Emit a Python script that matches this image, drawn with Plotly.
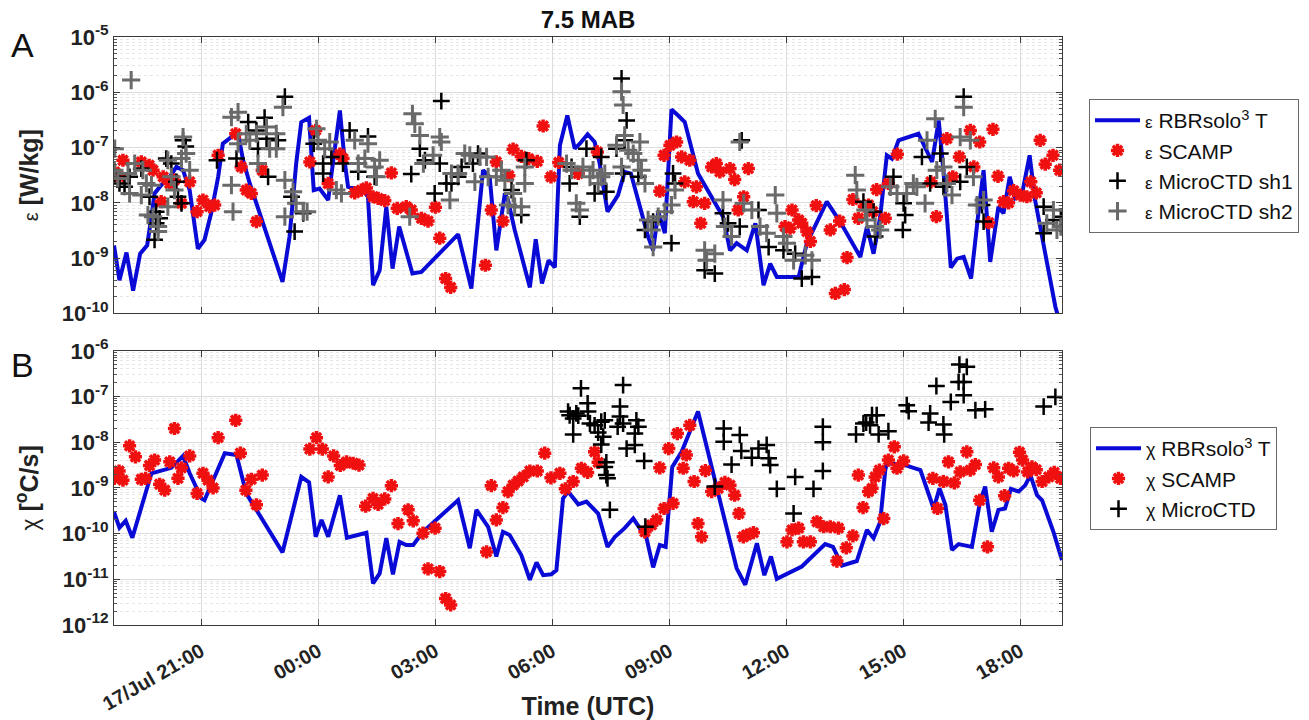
import pandas as pd
import plotly.graph_objects as go

# ---------------- data (time in hours after 17 Jul 00:00 UTC, values as log10) -------------
# Panel A: epsilon
eps_rbr_t = [18.77, 18.91, 19.09, 19.26, 19.44, 19.62, 19.73, 19.81, 19.98, 20.2, 20.37, 20.54, 20.71, 20.92,
             21.09, 21.26, 21.44, 21.56, 21.78, 21.95, 22.08, 22.25, 23.09, 23.27, 23.44, 23.57, 23.77, 23.89,
             24.04, 24.26, 24.38, 24.56, 24.69, 24.77, 25.15, 25.28, 25.41, 25.58, 25.75, 25.91, 26.08, 26.42,
             26.65, 26.86, 27.59, 27.93, 28.23, 28.40, 28.57, 28.79, 28.87, 29.04, 29.26, 29.43, 29.58, 29.74,
             29.91, 30.07, 30.2, 30.39, 30.58, 30.71, 30.91, 31.09, 31.22, 31.42, 31.69, 31.86, 32.02, 32.29,
             32.46, 32.59, 32.72, 32.89, 33.06, 33.23, 33.40, 33.74, 34.08, 34.38, 34.56, 34.73, 34.99, 35.21,
             35.42, 35.59, 35.76, 36.32, 36.53, 37.04, 37.38, 37.9, 38.07, 38.24, 38.41, 38.58, 38.71, 38.88,
             39.39, 39.74, 39.91, 40.03, 40.22, 40.38, 40.55, 40.74, 40.93, 41.06, 41.23, 41.44, 41.57, 41.73,
             41.87, 42.04, 42.24, 42.38, 42.90, 43.07]
eps_rbr_log = [-8.77, -9.40, -8.90, -9.59, -8.92, -8.77, -8.25, -7.83, -7.68, -7.53, -7.35, -7.41, -7.77, -8.83,
               -8.67, -8.19, -7.53, -6.93, -6.81, -6.75, -7.23, -7.65, -9.43, -8.61, -7.29, -6.54, -6.46, -7.77,
               -7.74, -7.95, -7.29, -6.33, -7.29, -7.71, -7.77, -7.89, -9.49, -9.22, -8.07, -9.19, -8.43, -9.28,
               -9.25, -9.10, -8.57, -9.55, -7.41, -7.53, -8.86, -7.83, -7.95, -8.49, -9.10, -9.53, -8.66, -9.46,
               -9.04, -9.17, -6.96, -6.42, -7.02, -6.93, -6.76, -6.90, -7.29, -8.16, -7.86, -7.44, -7.47, -8.13,
               -8.61, -8.86, -8.16, -8.55, -6.31, -6.42, -6.54, -7.47, -7.89, -8.25, -8.86, -8.73, -8.86, -8.37,
               -9.49, -9.10, -9.34, -9.34, -8.73, -7.98, -8.34, -8.98, -8.43, -8.92, -8.25, -7.14, -7.20, -6.87,
               -6.75, -7.26, -6.51, -7.41, -9.17, -9.01, -8.98, -9.37, -8.16, -7.41, -9.07, -8.07, -8.19, -7.53,
               -7.92, -7.86, -7.14, -7.95, -9.88, -10.3]

eps_scamp_t = [18.79, 19.0, 18.91, 19.47, 19.67, 19.77, 20.03, 19.98, 20.2, 20.32, 20.5, 20.71, 20.9, 21.05,
               21.22, 21.35, 21.44, 21.89, 22.03, 22.16, 22.29, 22.42, 22.57, 23.79, 23.94, 24.26, 24.56, 24.64,
               24.94, 25.11, 25.24, 25.41, 25.54, 25.71, 25.88, 26.03, 26.26, 26.39, 26.65, 26.82, 27.01, 27.12,
               27.27, 27.4, 28.29, 28.44, 28.57, 28.74, 28.89, 29.0, 29.21, 29.4, 29.62, 29.77, 29.97, 30.17,
               30.67, 31.16, 32.76, 32.87, 33.02, 33.19, 33.32, 33.53, 33.4, 33.7, 33.62, 33.91, 33.81, 34.09,
               34.21, 34.3, 34.56, 34.68, 34.77, 35.03, 34.91, 36.15, 35.97, 36.1, 36.32, 36.4, 36.53, 36.62,
               36.77, 37.13, 37.37, 37.56, 37.26, 37.49, 37.71, 37.85, 38.0, 38.11, 38.22, 38.32, 38.54, 38.62,
               38.85, 39.85, 39.71, 40.12, 40.27, 40.44, 40.72, 40.96, 40.81, 41.3, 41.43, 41.19, 41.57, 41.7,
               41.83, 42.0, 42.17, 42.27, 42.41, 42.51, 42.64, 42.84, 43.01]
eps_scamp_log = [-7.44, -7.23, -7.53, -7.26, -7.32, -7.41, -7.53, -7.98, -7.65, -7.59, -8.01, -7.62, -8.16, -7.95,
                 -8.07, -8.04, -7.14, -6.75, -7.35, -7.77, -7.83, -8.34, -7.41, -7.26, -6.69, -7.65, -7.12, -7.20,
                 -7.82, -7.77, -7.73, -7.89, -7.92, -7.96, -7.46, -8.10, -8.07, -8.13, -8.28, -8.33, -8.08, -8.64,
                 -9.37, -9.53, -9.13, -8.13, -7.26, -8.33, -7.51, -7.03, -7.16, -7.20, -7.25, -6.61, -7.53, -7.27,
                 -7.47, -7.08, -7.79, -7.14, -6.96, -6.90, -7.17, -7.23, -7.62, -7.71, -7.98, -8.01, -8.37, -7.35,
                 -7.29, -7.44, -7.38, -7.58, -8.13, -7.38, -7.89, -8.13, -8.43, -8.46, -8.31, -8.37, -8.52, -8.70,
                 -8.05, -8.49, -8.33, -8.99, -9.64, -9.57, -7.94, -8.28, -8.06, -8.04, -8.16, -7.76, -8.28, -7.65,
                 -7.12, -8.25, -7.62, -6.84, -7.53, -7.17, -6.69, -6.90, -7.35, -6.67, -7.52, -8.36, -7.98, -8.0,
                 -7.78, -7.86, -7.89, -7.62, -7.82, -6.87, -7.30, -7.14, -7.41]

eps_sh1_t = [18.78, 18.91, 19.04, 19.17, 19.47, 19.68, 19.85, 19.81, 19.94, 19.85, 20.11, 20.24, 20.37, 20.41,
             20.5, 20.54, 20.61, 21.41, 21.91, 22.21, 22.42, 22.46, 22.63, 22.68, 22.72, 22.97, 23.15, 23.32,
             23.4, 23.62, 23.89, 24.13, 24.13, 24.34, 24.64, 24.81, 25.03, 25.28, 25.45, 26.39, 26.61, 26.74,
             27.16, 27.12, 26.99, 27.29, 27.42, 27.59, 27.68, 27.97, 28.1, 28.96, 29.21, 29.34, 30.5, 30.45,
             30.71, 30.88, 31.09, 31.39, 31.26, 31.65, 31.78, 31.91, 31.86, 31.82, 32.21, 32.38, 32.59, 33.06,
             33.1, 33.15, 33.91, 34.17, 34.38, 34.51, 34.81, 34.86, 35.29, 35.55, 35.93, 36.23, 36.4, 36.66,
             37.98, 38.24, 38.28, 38.75, 39.01, 39.05, 38.99, 39.48, 39.69, 39.95, 40.03, 40.46, 40.55, 40.63,
             41.02, 41.06, 42.6, 42.6, 42.85, 43.04]
eps_sh1_log = [-7.47, -7.65, -7.71, -7.53, -7.38, -7.89, -8.37, -8.67, -8.28, -8.16, -7.20, -7.29, -7.62, -7.89,
               -8.01, -6.87, -6.98, -7.23, -7.20, -6.54, -6.69, -7.02, -6.46, -6.84, -7.53, -6.87, -6.08, -7.89,
               -8.52, -8.19, -6.93, -7.29, -7.47, -7.17, -7.29, -6.69, -7.44, -6.80, -7.53, -7.48, -7.02, -7.23,
               -6.16, -7.29, -7.83, -7.65, -7.65, -7.53, -7.35, -7.29, -7.11, -7.77, -8.22, -7.23, -7.35, -7.65,
               -8.25, -7.02, -7.83, -7.80, -7.17, -7.02, -5.75, -6.51, -6.87, -7.47, -7.53, -8.49, -8.34, -8.73,
               -7.47, -7.65, -9.22, -9.28, -8.19, -8.37, -8.43, -6.87, -8.13, -8.80, -8.86, -8.92, -9.37, -9.34,
               -7.98, -8.16, -8.61, -7.53, -8.01, -8.22, -8.49, -7.17, -7.65, -7.11, -7.71, -7.62, -6.08, -7.35,
               -8.04, -8.34, -8.07, -8.55, -8.31, -8.25]

eps_sh2_t = [18.79, 19.21, 18.78, 18.87, 19.13, 19.3, 19.51, 19.6, 19.17, 19.47, 19.73, 19.64, 19.77, 19.9,
             19.9, 20.15, 20.24, 20.32, 20.5, 20.54, 20.62, 20.71, 20.15, 21.78, 21.95, 21.95, 21.78, 21.82,
             22.16, 22.25, 22.42, 22.46, 22.68, 22.76, 22.93, 22.93, 23.1, 23.15, 23.36, 23.44, 23.15, 23.62,
             23.72, 23.96, 24.0, 24.17, 24.3, 24.47, 24.6, 24.94, 25.03, 25.2, 25.28, 25.45, 25.5, 25.58,
             26.42, 26.48, 26.61, 26.7, 26.35, 27.12, 27.16, 26.95, 27.38, 27.42, 27.59, 27.76, 27.89, 28.02,
             28.15, 28.32, 28.36, 28.57, 28.7, 28.79, 28.87, 29.0, 29.04, 29.21, 29.3, 29.3, 30.37, 30.5,
             30.62, 30.71, 30.79, 30.97, 31.05, 31.18, 31.26, 31.35, 31.78, 31.82, 31.86, 31.78, 31.65, 31.95,
             32.08, 32.25, 32.21, 32.29, 32.38, 32.46, 32.55, 32.59, 32.72, 32.89, 33.06, 33.15, 33.91, 33.96,
             34.17, 34.38, 34.43, 34.6, 34.81, 34.91, 35.12, 35.33, 35.5, 35.72, 35.76, 35.93, 36.02, 36.19,
             36.49, 36.66, 37.77, 37.81, 38.03, 38.07, 38.28, 38.41, 38.67, 38.84, 39.09, 39.26, 39.35, 39.56,
             39.61, 39.82, 39.86, 40.03, 40.12, 40.25, 40.46, 40.55, 40.72, 40.8, 40.89, 41.06, 42.68, 42.85,
             42.94, 43.04]
eps_sh2_log = [-7.02, -5.78, -7.41, -7.56, -7.47, -7.29, -7.41, -7.65, -7.83, -7.86, -7.68, -8.22, -8.25, -8.43,
               -8.52, -7.23, -7.53, -7.77, -7.20, -6.81, -7.11, -7.41, -8.07, -6.45, -6.36, -6.93, -7.68, -8.16,
               -6.75, -6.87, -6.75, -7.29, -6.63, -7.02, -6.75, -7.02, -6.27, -7.59, -7.80, -8.01, -8.25, -8.16,
               -8.16, -6.66, -6.87, -7.02, -6.90, -7.77, -7.83, -6.87, -7.29, -7.20, -6.93, -7.35, -7.53, -7.23,
               -6.39, -6.57, -6.78, -7.29, -8.25, -6.81, -6.90, -7.14, -7.95, -7.47, -7.47, -7.11, -7.14, -7.62,
               -7.17, -7.17, -7.53, -7.53, -7.41, -7.59, -8.04, -7.83, -8.07, -8.07, -7.65, -7.35, -7.29, -7.41,
               -8.01, -8.13, -7.35, -7.53, -7.41, -7.65, -7.53, -7.47, -5.99, -6.23, -6.78, -7.35, -6.96, -7.05,
               -7.11, -6.90, -7.23, -7.41, -7.65, -8.31, -8.49, -8.80, -8.25, -8.16, -8.04, -7.77, -8.86, -9.04,
               -8.92, -7.95, -8.43, -8.61, -6.90, -8.01, -8.13, -8.43, -8.55, -7.86, -8.19, -8.61, -8.73, -9.04,
               -8.95, -9.04, -7.50, -7.77, -8.13, -8.31, -8.43, -8.49, -7.71, -7.83, -7.83, -7.65, -7.71, -8.01,
               -6.87, -6.48, -7.41, -7.35, -7.65, -7.86, -6.81, -6.27, -6.87, -7.53, -8.04, -7.95, -8.37, -8.13,
               -8.49, -8.43]

# Panel B: chi
chi_rbr_t = [18.77, 18.91, 19.07, 19.24, 19.73, 20.24, 20.54, 20.71, 21.01, 21.09, 21.61, 21.91, 22.16, 23.09,
             23.57, 23.77, 23.94, 24.09, 24.26, 24.56, 24.74, 25.24, 25.41, 25.58, 25.75, 25.92, 26.09, 26.26,
             26.44, 26.69, 27.59, 27.89, 28.06, 28.36, 28.57, 28.74, 28.91, 29.21, 29.43, 29.6, 29.77, 29.98,
             30.11, 30.28, 30.41, 30.67, 30.88, 31.18, 31.42, 31.61, 31.86, 32.08, 32.42, 32.59, 32.76, 32.91,
             33.08, 33.32, 33.74, 34.17, 34.73, 34.95, 35.25, 35.44, 35.61, 35.76, 36.4, 36.62, 37.0, 37.2,
             37.43, 37.81, 38.07, 38.24, 38.41, 38.54, 38.58, 39.01, 39.44, 39.78, 39.93, 40.08, 40.25, 40.42,
             40.59, 40.76, 40.97, 41.1, 41.27, 41.44, 41.61, 41.76, 41.96, 42.13, 42.26, 42.43, 42.56, 42.85,
             43.07]
chi_rbr_log = [-9.53, -9.87, -9.72, -10.09, -8.68, -8.56, -8.30, -8.68, -9.23, -9.27, -8.24, -8.28, -9.12, -10.41,
               -8.76, -8.88, -10.07, -9.70, -10.07, -9.16, -10.09, -9.98, -11.09, -10.87, -10.10, -10.89, -10.18,
               -10.25, -10.25, -9.96, -9.27, -10.32, -9.48, -9.85, -10.50, -9.96, -10.03, -10.47, -11.01, -10.63,
               -10.91, -10.89, -10.80, -9.23, -9.08, -9.36, -9.30, -9.56, -10.29, -10.07, -9.88, -9.67, -10.10,
               -10.74, -10.25, -10.29, -8.54, -8.21, -7.33, -8.79, -10.76, -11.12, -10.21, -10.91, -10.50, -10.99,
               -10.72, -10.54, -10.23, -10.29, -10.70, -10.60, -9.92, -10.10, -9.74, -8.61, -8.46, -8.49, -8.61,
               -9.45, -9.01, -9.37, -10.36, -10.23, -10.25, -10.29, -9.30, -8.97, -9.96, -9.48, -9.45, -9.02,
               -9.08, -8.94, -8.72, -9.16, -9.27, -9.96, -10.58]

chi_scamp_t = [18.78, 18.9, 19.0, 19.17, 19.32, 19.47, 19.58, 19.68, 19.81, 19.94, 20.07, 20.2, 20.32, 20.41,
               20.5, 20.71, 20.9, 21.05, 21.18, 21.31, 21.44, 21.89, 22.01, 22.15, 22.29, 22.42, 22.57, 23.79,
               23.96, 24.11, 24.26, 24.4, 24.57, 24.73, 24.9, 25.05, 25.22, 25.41, 25.54, 25.71, 25.88, 26.05,
               26.31, 26.44, 26.69, 26.82, 27.0, 27.12, 27.27, 27.4, 28.32, 28.44, 28.57, 28.74, 28.87, 29.0,
               29.13, 29.26, 29.43, 29.62, 29.81, 29.97, 30.2, 30.34, 30.54, 30.75, 30.91, 31.09, 31.18, 32.38,
               32.55, 32.68, 32.87, 33.1, 32.76, 32.99, 33.21, 33.53, 33.44, 33.36, 33.64, 33.93, 33.74, 33.83,
               34.09, 34.26, 34.43, 34.56, 34.68, 34.79, 34.9, 34.99, 35.16, 36.02, 36.15, 36.32, 36.44, 36.62,
               36.79, 36.96, 37.13, 37.34, 37.3, 37.54, 37.71, 37.85, 37.97, 38.11, 38.2, 38.28, 38.39, 38.5,
               38.62, 38.77, 38.84, 39.01, 39.76, 39.88, 40.03, 40.16, 40.31, 40.46, 40.63, 40.72, 40.85, 40.96,
               41.16, 41.32, 41.44, 41.6, 41.7, 41.83, 41.98, 42.06, 42.19, 42.3, 42.41, 42.56, 42.73, 42.87,
               43.03]
chi_scamp_log = [-8.79, -8.63, -8.83, -8.08, -8.32, -8.81, -8.79, -8.51, -8.39, -8.92, -9.05, -8.43, -7.70, -8.79,
                 -8.56, -8.30, -9.12, -8.68, -8.83, -9.0, -7.90, -7.52, -8.24, -9.05, -8.81, -9.37, -8.72, -8.15,
                 -7.90, -8.15, -8.76, -8.30, -8.51, -8.43, -8.46, -8.50, -9.40, -9.23, -9.36, -9.24, -8.95, -9.78,
                 -9.48, -9.72, -9.99, -10.77, -9.88, -10.83, -11.42, -11.56, -10.40, -8.95, -9.70, -9.43, -9.08,
                 -8.94, -8.85, -8.76, -8.63, -8.63, -8.24, -8.78, -8.68, -9.02, -8.86, -8.57, -8.66, -8.21, -8.44,
                 -9.96, -9.81, -9.70, -9.45, -9.34, -8.56, -8.14, -7.81, -7.63, -8.28, -8.57, -8.86, -8.62, -9.78,
                 -10.07, -9.08, -9.01, -8.88, -8.94, -9.16, -9.56, -10.07, -10.03, -9.98, -10.18, -9.92, -9.88,
                 -10.18, -10.18, -9.74, -9.85, -9.85, -9.88, -10.60, -10.31, -10.05, -8.72, -9.43, -9.08, -9.01,
                 -8.76, -8.61, -9.67, -8.39, -8.10, -8.57, -8.41, -8.79, -9.45, -8.86, -8.43, -8.89, -8.65, -8.21,
                 -8.61, -8.49, -9.27, -10.29, -8.56, -8.76, -9.17, -8.57, -8.63, -8.22, -8.39, -8.65, -8.54, -8.60,
                 -8.86, -8.76, -8.66, -8.79]

chi_ctd_t = [30.74, 30.41, 30.45, 30.54, 30.62, 30.67, 30.54, 30.91, 30.92, 30.97, 31.09, 31.18, 31.26, 31.35,
             31.31, 31.26, 31.39, 31.35, 31.39, 31.42, 31.48, 31.82, 31.74, 31.74, 31.68, 31.82, 31.91, 32.12,
             32.16, 32.21, 32.12, 32.36, 32.39, 34.17, 34.4, 34.4, 34.6, 34.81, 34.85, 35.12, 35.29, 35.5,
             35.55, 35.59, 35.76, 36.23, 36.19, 36.7, 36.94, 36.94, 36.94, 37.79, 37.98, 38.05, 38.2, 38.32,
             38.15, 38.37, 38.62, 39.09, 39.14, 39.69, 39.65, 40.03, 40.05, 39.85, 40.22, 40.44, 40.63, 40.42,
             40.55, 40.55, 40.85, 41.1, 42.6, 42.9]
chi_ctd_log = [-6.82, -7.33, -7.41, -7.48, -7.37, -7.42, -7.83, -7.15, -7.33, -7.59, -7.63, -7.79, -7.55, -7.52,
               -7.88, -8.05, -8.44, -8.54, -8.72, -8.79, -9.48, -6.75, -7.22, -7.44, -7.66, -7.59, -8.14, -8.06,
               -7.52, -7.66, -7.81, -8.41, -9.85, -8.97, -7.70, -7.99, -8.49, -7.84, -8.19, -8.34, -8.14, -8.06,
               -8.35, -8.50, -9.02, -8.76, -9.56, -9.02, -7.66, -8.00, -8.63, -7.83, -7.59, -7.57, -7.41, -7.41,
               -7.63, -7.83, -7.76, -7.19, -7.32, -7.37, -7.57, -7.61, -7.83, -6.77, -7.12, -6.30, -6.35, -6.68,
               -6.68, -6.97, -7.30, -7.28, -7.22, -7.01]

x_tick_hours = [21, 24, 27, 30, 33, 36, 39, 42]
x_tick_labels = ["17/Jul 21:00", "00:00", "03:00", "06:00", "09:00", "12:00", "15:00", "18:00"]
x_range_hours = [18.77, 43.07]

eps_tick_exp = [-10, -9, -8, -7, -6, -5]
chi_tick_exp = [-12, -11, -10, -9, -8, -7, -6]

# ---------------- helpers ----------------
BASE = pd.Timestamp("2023-07-17 00:00")


def tt(hours):
    return BASE + pd.to_timedelta(pd.Series(hours, dtype=float), unit="h")


def vv(logs):
    return [10.0 ** v for v in logs]


FONT = "Liberation Sans, Arial, sans-serif"
BLUE = "#0a0ad6"
RED = "#f01010"
GRAY = "#6a6a6a"
EPS = "<span style='font-size:17px'>ε</span>"
CHI = "<span style='font-size:18px'>χ</span>"

fig = go.Figure()

# Panel A
fig.add_trace(go.Scatter(x=tt(eps_rbr_t), y=vv(eps_rbr_log), mode="lines",
                         line=dict(color=BLUE, width=4),
                         name=EPS + " RBRsolo<sup>3</sup> T",
                         xaxis="x", yaxis="y", legend="legend"))
fig.add_trace(go.Scatter(x=tt(eps_scamp_t), y=vv(eps_scamp_log), mode="markers",
                         marker=dict(symbol="asterisk-open", size=11, color=RED, line=dict(width=3.5, color=RED)),
                         name=EPS + " SCAMP",
                         xaxis="x", yaxis="y", legend="legend"))
fig.add_trace(go.Scatter(x=tt(eps_sh1_t), y=vv(eps_sh1_log), mode="markers",
                         marker=dict(symbol="cross-thin-open", size=12, color="black",
                                     line=dict(width=2.5, color="black")),
                         name=EPS + " MicroCTD sh1",
                         xaxis="x", yaxis="y", legend="legend"))
fig.add_trace(go.Scatter(x=tt(eps_sh2_t), y=vv(eps_sh2_log), mode="markers",
                         marker=dict(symbol="cross-thin-open", size=13, color=GRAY,
                                     line=dict(width=3, color=GRAY)),
                         name=EPS + " MicroCTD sh2",
                         xaxis="x", yaxis="y", legend="legend"))

# Panel B
fig.add_trace(go.Scatter(x=tt(chi_rbr_t), y=vv(chi_rbr_log), mode="lines",
                         line=dict(color=BLUE, width=4),
                         name=CHI + " RBRsolo<sup>3</sup> T",
                         xaxis="x2", yaxis="y2", legend="legend2"))
fig.add_trace(go.Scatter(x=tt(chi_scamp_t), y=vv(chi_scamp_log), mode="markers",
                         marker=dict(symbol="asterisk-open", size=11, color=RED, line=dict(width=3.5, color=RED)),
                         name=CHI + " SCAMP",
                         xaxis="x2", yaxis="y2", legend="legend2"))
fig.add_trace(go.Scatter(x=tt(chi_ctd_t), y=vv(chi_ctd_log), mode="markers",
                         marker=dict(symbol="cross-thin-open", size=12, color="black",
                                     line=dict(width=2.5, color="black")),
                         name=CHI + " MicroCTD",
                         xaxis="x2", yaxis="y2", legend="legend2"))

xr = list(tt(x_range_hours))
xtv = list(tt(x_tick_hours))

common_x = dict(type="date", range=xr, tickmode="array", tickvals=xtv, automargin=False,
                showline=True, linecolor="#3a3a3a", linewidth=1, mirror="allticks",
                ticks="inside", ticklen=6, tickcolor="#3a3a3a",
                showgrid=True, gridcolor="#dcdcdc", gridwidth=1, zeroline=False)

common_y = dict(type="log", tickmode="array", automargin=False,
                showline=True, linecolor="#3a3a3a", linewidth=1, mirror="allticks",
                ticks="inside", ticklen=6, tickcolor="#3a3a3a",
                showgrid=True, gridcolor="#dcdcdc", gridwidth=1, zeroline=False,
                tickfont=dict(family=FONT, size=22, color="#222", weight="bold"),
                minor=dict(dtick="D1", ticks="inside", ticklen=3, tickcolor="#555",
                           showgrid=True, gridcolor="#e6e6e6", griddash="dot", gridwidth=1))

fig.update_layout(
    width=1309, height=720,
    margin=dict(l=114, r=247, t=37, b=95, autoexpand=False),
    paper_bgcolor="white", plot_bgcolor="white",
    font=dict(family=FONT, color="#222"),
    showlegend=True,
    xaxis=dict(common_x, domain=[0, 1], anchor="y", showticklabels=False),
    yaxis=dict(common_y, domain=[0.530, 1.0], anchor="x",
               range=[-10, -5],
               tickvals=[10.0 ** e for e in eps_tick_exp],
               ticktext=["10<sup>%d</sup>" % e for e in eps_tick_exp],
               title=dict(text="<span style='font-size:20px;font-weight:normal'>ε</span> <b>[W/kg]</b>",
                          font=dict(family=FONT, size=25, color="#222"), standoff=16)),
    xaxis2=dict(common_x, domain=[0, 1], anchor="y2", showticklabels=True,
                ticktext=x_tick_labels, tickangle=-30, ticklabelstandoff=6,
                tickfont=dict(family=FONT, size=20, color="#222", weight="bold"),
                title=dict(text="<b>Time (UTC)</b>", font=dict(family=FONT, size=25, color="#222"),
                           standoff=4)),
    yaxis2=dict(common_y, domain=[0.0, 0.4663], anchor="x2",
                range=[-12, -6],
                tickvals=[10.0 ** e for e in chi_tick_exp],
                ticktext=["10<sup>%d</sup>" % e for e in chi_tick_exp],
                title=dict(text="<span style='font-size:23px'>χ</span> <b>[<sup>o</sup>C/s]</b>",
                           font=dict(family=FONT, size=25, color="#222"), standoff=16)),
    legend=dict(xref="container", yref="container", x=1089 / 1309, y=1 - 99 / 720,
                xanchor="left", yanchor="top", bgcolor="white", bordercolor="#6a6a6a", borderwidth=1,
                font=dict(family=FONT, size=21, color="#111"), itemwidth=45, tracegroupgap=0),
    legend2=dict(xref="container", yref="container", x=1090 / 1309, y=1 - 427 / 720,
                 xanchor="left", yanchor="top", bgcolor="white", bordercolor="#6a6a6a", borderwidth=1,
                 font=dict(family=FONT, size=21, color="#111"), itemwidth=45, tracegroupgap=0),
    title=dict(text="<b>7.5 MAB</b>", x=588 / 1309, xanchor="center", xref="container",
               y=1 - 20 / 720, yanchor="middle", yref="container",
               font=dict(family=FONT, size=24, color="#111")),
    annotations=[
        dict(text="A", xref="paper", yref="paper", x=(22 - 114) / 948, y=(625 - 45) / 588,
             showarrow=False, xanchor="center", yanchor="middle",
             font=dict(family=FONT, size=34, color="#111")),
        dict(text="B", xref="paper", yref="paper", x=(22 - 114) / 948, y=(625 - 365) / 588,
             showarrow=False, xanchor="center", yanchor="middle",
             font=dict(family=FONT, size=34, color="#111")),
    ],
)

fig.write_html("out.html")
